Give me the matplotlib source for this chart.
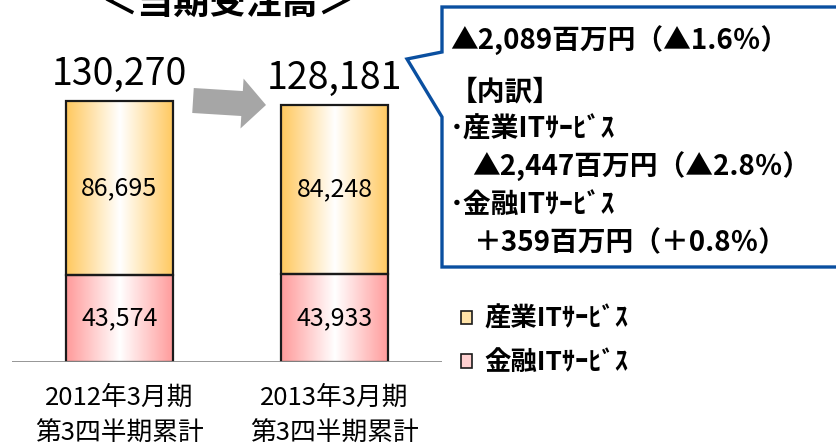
import numpy as np
import matplotlib
matplotlib.use("Agg")
import matplotlib.pyplot as plt
from matplotlib.colors import LinearSegmentedColormap
from matplotlib.patches import FancyArrow, Polygon, Patch

plt.rcParams['font.family'] = ['Noto Sans CJK JP', 'DejaVu Sans']

categories = ['2012年3月期\n第3四半期累計', '2013年3月期\n第3四半期累計']
kinyu = [43574, 43933]      # 金融ITサービス
sangyo = [86695, 84248]     # 産業ITサービス
totals = [130270, 128181]
series_names = ['産業ITｻｰﾋﾞｽ', '金融ITｻｰﾋﾞｽ']
callout_lines = ['▲2,089百万円（▲1.6％）', '【内訳】', '･産業ITｻｰﾋﾞｽ',
                 '▲2,447百万円（▲2.8％）', '･金融ITｻｰﾋﾞｽ', '＋359百万円（＋0.8％）']

W, H = 837, 447
fig = plt.figure(figsize=(W / 100, H / 100), dpi=100)

# main bar axes: bottom at y=362px, spans x 12..442 px
ymax = 130270 * 362 / 261
ax = fig.add_axes([12 / W, (H - 362) / H, 430 / W, 362 / H])
ax.axis('off')
ax.patch.set_alpha(0)

x = np.arange(len(categories))
b1 = ax.bar(x, kinyu, width=0.5, color='none', edgecolor='#1a1a1a', lw=1.6, zorder=2)
b2 = ax.bar(x, sangyo, width=0.5, bottom=kinyu, color='none', edgecolor='#1a1a1a', lw=1.6, zorder=2)

# horizontal gradient fill (edge colour -> white -> edge colour)
grad = np.linspace(0, 1, 256).reshape(1, -1)
for bars, edge in [(b1, '#FF9A9A'), (b2, '#FFC85E')]:
    cmap = LinearSegmentedColormap.from_list('g', [edge, '#FFFFFF', edge])
    for p in bars:
        x0, y0 = p.get_x(), p.get_y()
        im = ax.imshow(grad, cmap=cmap, aspect='auto', zorder=1.5,
                       extent=[x0, x0 + p.get_width(), y0, y0 + p.get_height()])
        im.set_clip_path(p)

ax.set_xlim(-0.5, 1.5)
ax.set_ylim(0, ymax)
ax.axhline(0, color='#8c8c8c', lw=2, zorder=3)

for i in range(len(categories)):
    ax.text(x[i], kinyu[i] / 2, f'{kinyu[i]:,}', ha='center', va='center', fontsize=18, zorder=4)
    ax.text(x[i], kinyu[i] + sangyo[i] / 2, f'{sangyo[i]:,}', ha='center', va='center', fontsize=18, zorder=4)
    ax.text(x[i], totals[i] + 3500, f'{totals[i]:,}', ha='center', va='bottom', fontsize=27)
    ax.text(x[i], -11500, categories[i], ha='center', va='top', fontsize=18.5, linespacing=1.5)

# overlay in pixel coordinates for decorations
ov = fig.add_axes([0, 0, 1, 1])
ov.set_xlim(0, W)
ov.set_ylim(H, 0)
ov.axis('off')
ov.patch.set_alpha(0)

ov.text(228, 22, '＜当期受注高＞', ha='center', va='bottom', fontsize=26, fontweight='bold')

ov.add_patch(FancyArrow(193, 100.5, 73, 4.5, width=25, head_width=50, head_length=24,
                        length_includes_head=True, color='#A6A6A6', lw=0))

ov.add_patch(Polygon([(442, 7), (850, 7), (850, 267), (442, 267), (442, 117), (407, 59), (442, 52)],
                     closed=True, fill=True, facecolor='white', edgecolor='#0A4FA0', lw=2.4, clip_on=False))

ys = [40, 93, 130, 166, 205, 243]
xs = [450, 450, 450, 472, 450, 474]
for t, xx, yy in zip(callout_lines, xs, ys):
    ov.text(xx, yy, t, ha='left', va='center', fontsize=20, fontweight='bold')

handles = [Patch(facecolor='#FFE3A8', edgecolor='#1a1a1a', lw=1.2),
           Patch(facecolor='#FFD0D0', edgecolor='#1a1a1a', lw=1.2)]
fig.legend(handles=handles, labels=series_names, loc='upper left', bbox_to_anchor=(461 / W, 1 - 306 / H),
           frameon=False, handlelength=0.4, handleheight=0.4, handletextpad=0.5, borderpad=0,
           borderaxespad=0, labelspacing=0.62, prop={'weight': 'bold', 'size': 19})

fig.savefig('out.png', dpi=100)
